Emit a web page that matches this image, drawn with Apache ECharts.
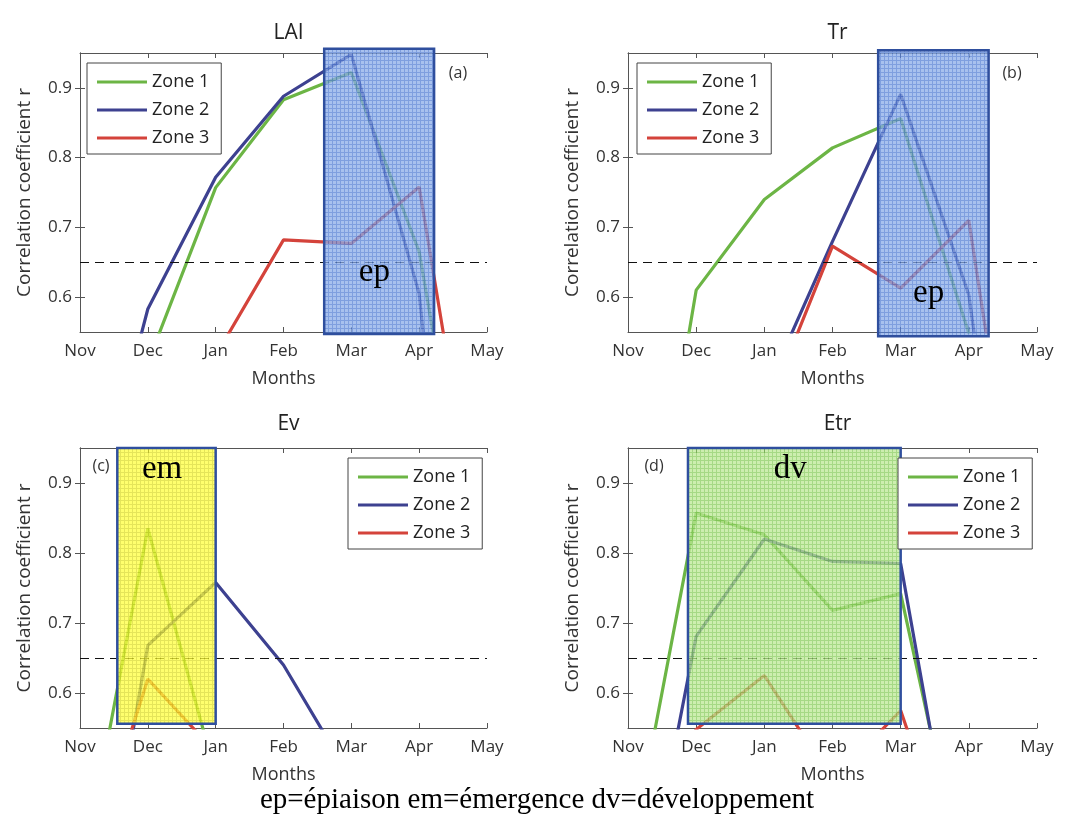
<!DOCTYPE html>
<html>
<head>
<meta charset="utf-8">
<script src="https://cdn.jsdelivr.net/npm/echarts@6/dist/echarts.min.js"></script>
<style>
  html, body { margin: 0; padding: 0; background: #fff; }
  #chart { width: 1070px; height: 815px; }
</style>
</head>
<body>
<div id="chart"></div>
<script>
// 月份刻度
var months = ['Nov', 'Dec', 'Jan', 'Feb', 'Mar', 'Apr', 'May'];
var zoneNames = ['Zone 1', 'Zone 2', 'Zone 3'];
var panelTitles = ['LAI', 'Tr', 'Ev', 'Etr'];
var panelTags = ['(a)', '(b)', '(c)', '(d)'];
var yTicks = [0.6, 0.7, 0.8, 0.9];
var threshold = 0.65;

// 相关系数 (每个区一条线)
var laiZone1 = [0.20, 0.506, 0.757, 0.883, 0.922, 0.665, 0.10];
var laiZone2 = [0.21, 0.583, 0.772, 0.888, 0.948, 0.605, -0.35];
var laiZone3 = [0.30, 0.40, 0.516, 0.682, 0.677, 0.758, 0.17];

var trZone1 = [0.03, 0.61, 0.740, 0.814, 0.856, 0.548, 0.30];
var trZone2 = [0.20, 0.30, 0.46, 0.68, 0.891, 0.603, -0.10];
var trZone3 = [0.20, 0.30, 0.43, 0.673, 0.613, 0.710, 0.07];

var evZone1 = [0.325, 0.835, 0.483, 0.40, 0.35, 0.30, 0.30];
var evZone2 = [0.11, 0.668, 0.758, 0.640, 0.477, 0.40, 0.40];
var evZone3 = [0.316, 0.620, 0.515, 0.45, 0.40, 0.40, 0.40];

var etrZone1 = [0.345, 0.857, 0.826, 0.718, 0.742, 0.295, 0.20];
var etrZone2 = [0.18, 0.681, 0.820, 0.788, 0.785, 0.24, 0.20];
var etrZone3 = [0.40, 0.548, 0.625, 0.475, 0.575, 0.29, 0.20];

// 生育期方框: [x起, x止, y下, y上, 标签]
var stageLai = [3.60, 5.22, 0.547, 0.956, 'ep'];
var stageTr = [3.67, 5.29, 0.544, 0.954, 'ep'];
var stageEv = [0.55, 2.00, 0.556, 0.950, 'em'];
var stageEtr = [0.88, 4.00, 0.556, 0.950, 'dv'];
// 标签位置
var stageLabelLai = [4.34, 0.635];
var stageLabelTr = [4.41, 0.606];
var stageLabelEv = [1.21, 0.919];
var stageLabelEtr = [2.38, 0.919];

var panelData = [
    [laiZone1, laiZone2, laiZone3],
    [trZone1, trZone2, trZone3],
    [evZone1, evZone2, evZone3],
    [etrZone1, etrZone2, etrZone3]
];
var stages = [stageLai, stageTr, stageEv, stageEtr];
var stageLabels = [stageLabelLai, stageLabelTr, stageLabelEv, stageLabelEtr];

var zoneColors = ['#6cb545', '#3d4190', '#d4433b'];
var grids = [
    { left: 80, top: 53, width: 407, height: 279 },
    { left: 628, top: 53, width: 409, height: 279 },
    { left: 80, top: 448, width: 407, height: 280 },
    { left: 628, top: 448, width: 409, height: 280 }
];
var legendPos = [[87, 63], [637, 63], [348, 458], [898, 458]];
var tagPos = [[458, 73], [1012, 73], [101, 466], [654, 466]];
var titleY = [18, 409];

// 网格填充图案
function makePattern(base, line) {
    var c = document.createElement('canvas');
    c.width = 4;
    c.height = 4;
    var ctx = c.getContext('2d');
    ctx.fillStyle = base;
    ctx.fillRect(0, 0, 4, 4);
    ctx.fillStyle = line;
    ctx.fillRect(0, 0, 4, 1);
    ctx.fillRect(0, 0, 1, 4);
    return { image: c, repeat: 'repeat' };
}
var patterns = [
    makePattern('#8badE8', '#547fd5'),
    makePattern('#8badE8', '#547fd5'),
    makePattern('#ffff3d', '#dddd23'),
    makePattern('#bce895', '#88cd5d')
];

var axisColor = '#555';
var fontSans = 'Open Sans';

function initChart() {
    var myChart = echarts.init(document.getElementById('chart'), null, { renderer: 'canvas' });

    var xAxes = [], yAxes = [], series = [], legends = [], titles = [], graphics = [];

    grids.forEach(function (g, p) {
        // 下方和左侧主轴
        xAxes.push({
            gridIndex: p, type: 'value', min: 0, max: 6, interval: 1,
            name: 'Months', nameLocation: 'middle', nameGap: 38,
            nameTextStyle: { fontFamily: fontSans, fontSize: 18, color: '#333' },
            axisLine: { lineStyle: { color: axisColor } },
            axisTick: { inside: true, length: 5, lineStyle: { color: axisColor } },
            axisLabel: {
                fontFamily: fontSans, fontSize: 17, color: '#333', margin: 11,
                formatter: function (v) { return months[v] || ''; }
            },
            splitLine: { show: false }
        });
        yAxes.push({
            gridIndex: p, type: 'value', min: 0.55, max: 0.95,
            name: 'Correlation coefficient r', nameLocation: 'middle', nameGap: 46,
            nameTextStyle: { fontFamily: fontSans, fontSize: 19, color: '#333' },
            axisLine: { show: true, lineStyle: { color: axisColor } },
            axisTick: { inside: true, length: 5, customValues: yTicks, lineStyle: { color: axisColor } },
            axisLabel: { fontFamily: fontSans, fontSize: 17, color: '#333', margin: 8, customValues: yTicks,
                formatter: function (v) { return v.toFixed(1); } },
            splitLine: { show: false }
        });
    });
    // 上方和右侧边框轴
    grids.forEach(function (g, p) {
        xAxes.push({
            gridIndex: p, type: 'value', position: 'top', min: 0, max: 6, interval: 1,
            axisLine: { lineStyle: { color: axisColor } },
            axisTick: { inside: true, length: 5, lineStyle: { color: axisColor } },
            axisLabel: { show: false }, splitLine: { show: false }
        });
        yAxes.push({
            gridIndex: p, type: 'value', position: 'right', min: 0.55, max: 0.95,
            axisLine: { show: true, lineStyle: { color: axisColor } },
            axisTick: { inside: true, length: 5, customValues: yTicks, lineStyle: { color: axisColor } },
            axisLabel: { show: false }, splitLine: { show: false }
        });
    });

    grids.forEach(function (g, p) {
        panelData[p].forEach(function (vals, z) {
            var s = {
                name: zoneNames[z],
                type: 'line',
                xAxisIndex: p, yAxisIndex: p,
                data: vals.map(function (v, i) { return [i, v]; }),
                symbol: 'none',
                clip: true,
                z: 2,
                color: zoneColors[z],
                lineStyle: { width: 3.2, color: zoneColors[z] },
                animation: false
            };
            if (z === 0) {
                s.markLine = {
                    silent: true, symbol: ['none', 'none'], label: { show: false },
                    lineStyle: { color: '#111', type: [9, 6], width: 1.2 },
                    data: [{ yAxis: threshold }],
                    animation: false
                };
            }
            series.push(s);
        });

        // 生育期方框
        series.push({
            type: 'custom',
            xAxisIndex: p, yAxisIndex: p,
            clip: false,
            z: 5,
            silent: true,
            data: [[stages[p][0], stages[p][1], stages[p][2], stages[p][3], stageLabels[p][0], stageLabels[p][1]]],
            renderItem: function (params, api) {
                var a = api.coord([api.value(0), api.value(3)]);
                var b = api.coord([api.value(1), api.value(2)]);
                var t = api.coord([api.value(4), api.value(5)]);
                return {
                    type: 'group',
                    children: [
                        { type: 'rect', shape: { x: a[0], y: a[1], width: b[0] - a[0], height: b[1] - a[1] },
                          style: { fill: patterns[p], opacity: 0.75 } },
                        { type: 'rect', shape: { x: a[0], y: a[1], width: b[0] - a[0], height: b[1] - a[1] },
                          style: { fill: null, stroke: '#2f4f9e', lineWidth: 2.5 } },
                        { type: 'text', x: t[0], y: t[1],
                          style: { text: stages[p][4], fill: '#000', font: '33px "Liberation Serif"',
                                   align: 'center', verticalAlign: 'middle' } }
                    ]
                };
            },
            animation: false
        });

        legends.push({
            data: zoneNames,
            orient: 'vertical',
            left: legendPos[p][0], top: legendPos[p][1],
            icon: 'rect',
            itemWidth: 50, itemHeight: 3, itemGap: 6,
            padding: [8, 12, 5, 10],
            borderColor: '#444', borderWidth: 1, backgroundColor: '#fff',
            textStyle: { fontFamily: fontSans, fontSize: 18, color: '#222', lineHeight: 22 },
            selectedMode: false,
            z: 6
        });

        titles.push({
            text: panelTitles[p],
            left: g.left + g.width / 2, top: titleY[p < 2 ? 0 : 1],
            textAlign: 'center',
            textStyle: { fontFamily: fontSans, fontSize: 21, fontWeight: 'normal', color: '#222' }
        });

        graphics.push({
            type: 'text', x: tagPos[p][0], y: tagPos[p][1], z: 10,
            style: { text: panelTags[p], fill: '#333', font: '16px "Open Sans"',
                     align: 'center', verticalAlign: 'middle' }
        });
    });

    graphics.push({
        type: 'text', x: 537, y: 800, z: 10,
        style: { text: 'ep=épiaison em=émergence dv=développement', fill: '#000',
                 font: '29px "Liberation Serif"', align: 'center', verticalAlign: 'middle' }
    });

    var option = {
        backgroundColor: '#fff',
        animation: false,
        title: titles,
        legend: legends,
        grid: grids,
        xAxis: xAxes,
        yAxis: yAxes,
        series: series,
        graphic: graphics
    };

    myChart.setOption(option);
}

window.addEventListener('load', initChart);
</script>
</body>
</html>
